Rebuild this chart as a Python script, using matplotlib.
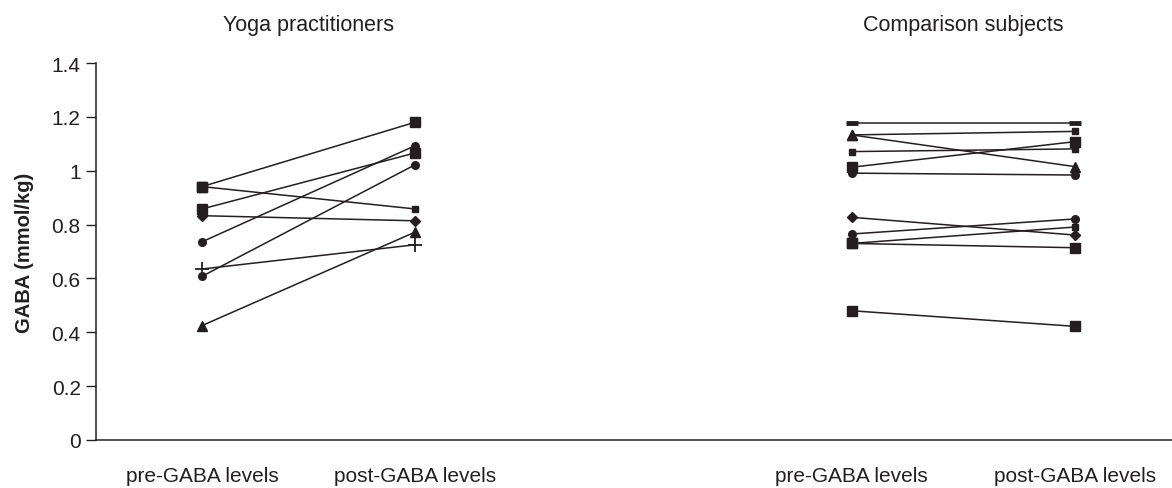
import matplotlib
matplotlib.use('Agg')
import matplotlib.pyplot as plt

plt.rcParams['font.family'] = ['Liberation Sans', 'DejaVu Sans']

ink = '#231f20'

x_pos = [1, 2, 4.05, 5.1]
x_labels = ['pre-GABA levels', 'post-GABA levels', 'pre-GABA levels', 'post-GABA levels']
group_titles = ['Yoga practitioners', 'Comparison subjects']

# yoga practitioners: pre, post
yoga_pre = [0.941, 0.941, 0.858, 0.833, 0.736, 0.635, 0.608, 0.425]
yoga_post = [1.180, 0.858, 1.066, 0.814, 1.093, 0.725, 1.022, 0.772]
yoga_mk_pre = ['s', 's', 's', 'D', 'o', '+', 'o', '^']
yoga_mk_post = ['s', 'sm', 's', 'D', 'o', '+', 'o', '^']

# comparison subjects: pre, post
comp_pre = [1.177, 1.133, 1.133, 1.071, 1.013, 0.991, 0.827, 0.765, 0.730, 0.730, 0.480]
comp_post = [1.177, 1.146, 1.015, 1.081, 1.108, 0.984, 0.761, 0.821, 0.791, 0.714, 0.422]
comp_mk_pre = ['_', '^', '^', 'sm', 's', 'o', 'D', 'o', 's', 's', 's']
comp_mk_post = ['_', 'sm', '^', 'sm', 's', 'o', 'D', 'o', 'sm', 's', 's']

marker_style = {
    's': dict(marker='s', markersize=6.5),
    'sm': dict(marker='s', markersize=5),
    'D': dict(marker='D', markersize=5.5),
    'o': dict(marker='o', markersize=5.5),
    '+': dict(marker='+', markersize=10, markeredgewidth=1.3),
    '^': dict(marker='^', markersize=7),
    '_': dict(marker='_', markersize=9, markeredgewidth=3.5),
}

fig = plt.figure(figsize=(11.72, 4.89), dpi=100)
ax = fig.add_axes([96 / 1172, 1 - 441 / 489, 1 - 96 / 1172, (441 - 64) / 489])


def draw_group(xa, xb, pre, post, mk_pre, mk_post):
    for a, b, ma, mb in zip(pre, post, mk_pre, mk_post):
        ax.plot([xa, xb], [a, b], color=ink, lw=1.1, zorder=2)
        for xx, yy, m in ((xa, a, ma), (xb, b, mb)):
            st = dict(marker_style[m])
            ax.plot([xx], [yy], color=ink, markerfacecolor=ink,
                    markeredgecolor=ink, linestyle='none', zorder=3, **st)


draw_group(x_pos[0], x_pos[1], yoga_pre, yoga_post, yoga_mk_pre, yoga_mk_post)
draw_group(x_pos[2], x_pos[3], comp_pre, comp_post, comp_mk_pre, comp_mk_post)

ax.set_xlim(0.502, 5.554)
ax.set_ylim(0, 1.4)
ax.set_yticks([0, 0.2, 0.4, 0.6, 0.8, 1.0, 1.2, 1.4])
ax.set_yticklabels(['0', '0.2', '0.4', '0.6', '0.8', '1', '1.2', '1.4'])
ax.set_xticks(x_pos)
ax.set_xticklabels(x_labels)
ax.tick_params(axis='x', length=0, pad=19, labelsize=15, colors=ink)
ax.tick_params(axis='y', length=7, width=1, labelsize=15, colors=ink, pad=4)
ax.spines['top'].set_visible(False)
ax.spines['right'].set_visible(False)
for s in ('left', 'bottom'):
    ax.spines[s].set_color(ink)
    ax.spines[s].set_linewidth(1.1)
ax.set_ylabel('GABA (mmol/kg)', fontsize=14.5, fontweight='bold', color=ink, labelpad=13)

for (xa, xb), t in zip([(x_pos[0], x_pos[1]), (x_pos[2], x_pos[3])], group_titles):
    ax.text((xa + xb) / 2, 1.0 + 39 / 377, t, transform=ax.get_xaxis_transform(),
            ha='center', va='center', fontsize=15.5, color=ink)

fig.savefig('out.png', dpi=100)
